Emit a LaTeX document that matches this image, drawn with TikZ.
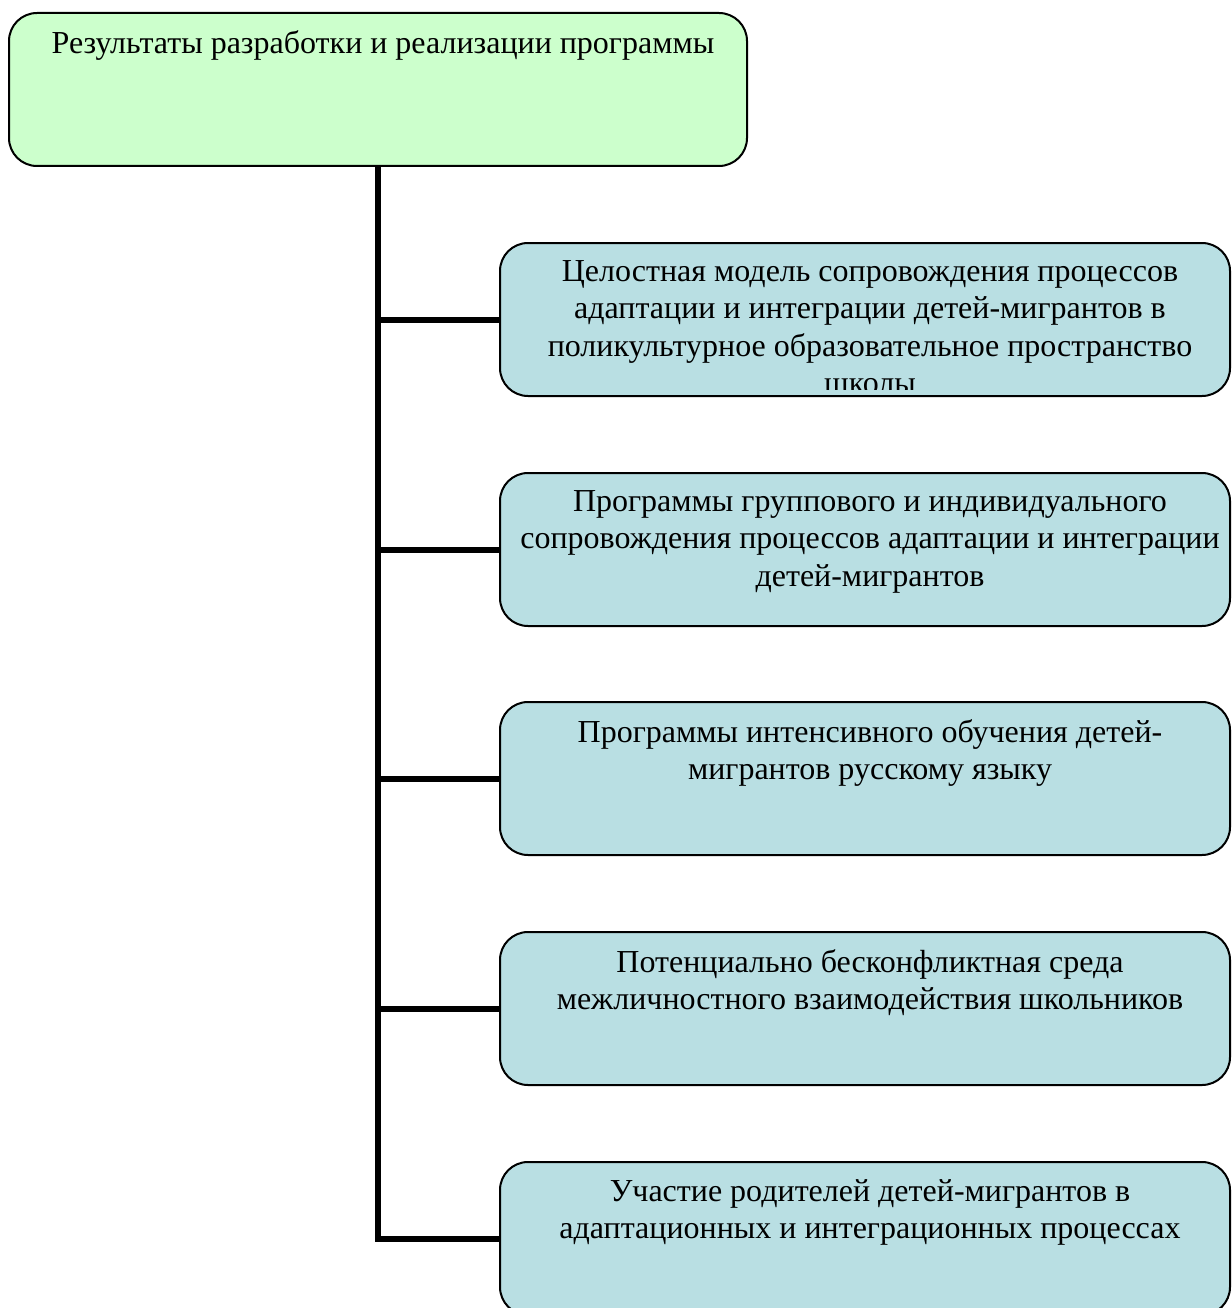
\documentclass[tikz,border=0pt]{standalone}
\usepackage{fontspec}
\setmainfont{Liberation Serif}
\definecolor{topgreen}{HTML}{CCFFCC}
\definecolor{childblue}{HTML}{B9DFE3}
\begin{document}
\begin{tikzpicture}[x=1pt,y=-1pt,
  box/.style={draw=black, line width=2pt, rounded corners=28pt, minimum width=730pt, minimum height=153pt, inner sep=0pt, fill=childblue},
  topbox/.style={box, fill=topgreen, minimum width=738pt},
  txt/.style={font=\fontsize{32}{37.5}\selectfont, align=center, inner sep=0pt, anchor=north},
  conn/.style={line width=6pt}]
\useasboundingbox (0,0) rectangle (1231,1308);
\clip (0,0) rectangle (1231,1308);
% boxes
\node[topbox] (top) at (378,89.5) {};
\node[box] (b1) at (865,319.5) {};
\node[box] (b2) at (865,549.5) {};
\node[box] (b3) at (865,778.5) {};
\node[box] (b4) at (865,1008.5) {};
\node[box] (b5) at (865,1238.5) {};
% connectors
\draw[conn] (top.south) |- (b5.west);
\draw[conn] (top.south |- b1.west) -- (b1.west);
\draw[conn] (top.south |- b2.west) -- (b2.west);
\draw[conn] (top.south |- b3.west) -- (b3.west);
\draw[conn] (top.south |- b4.west) -- (b4.west);
% texts
\node[txt] (ttop) at ([xshift=5pt,yshift=-18pt]top.north) {Результаты разработки и реализации программы};
\begin{scope}
\clip (b1.north west) rectangle ([yshift=8pt]b1.south east);
\node[txt] (t1) at ([xshift=5pt,yshift=-18pt]b1.north) {Целостная модель сопровождения процессов\\адаптации и интеграции детей-мигрантов в\\поликультурное образовательное пространство\\школы};
\end{scope}
\node[txt] (t2) at ([xshift=5pt,yshift=-18pt]b2.north) {Программы группового и индивидуального\\сопровождения процессов адаптации и интеграции\\детей-мигрантов};
\node[txt] (t3) at ([xshift=5pt,yshift=-18pt]b3.north) {Программы интенсивного обучения детей-\\мигрантов русскому языку};
\node[txt] (t4) at ([xshift=5pt,yshift=-18pt]b4.north) {Потенциально бесконфликтная среда\\межличностного взаимодействия школьников};
\node[txt] (t5) at ([xshift=5pt,yshift=-18pt]b5.north) {Участие родителей детей-мигрантов в\\адаптационных и интеграционных процессах};
\end{tikzpicture}
\end{document}
